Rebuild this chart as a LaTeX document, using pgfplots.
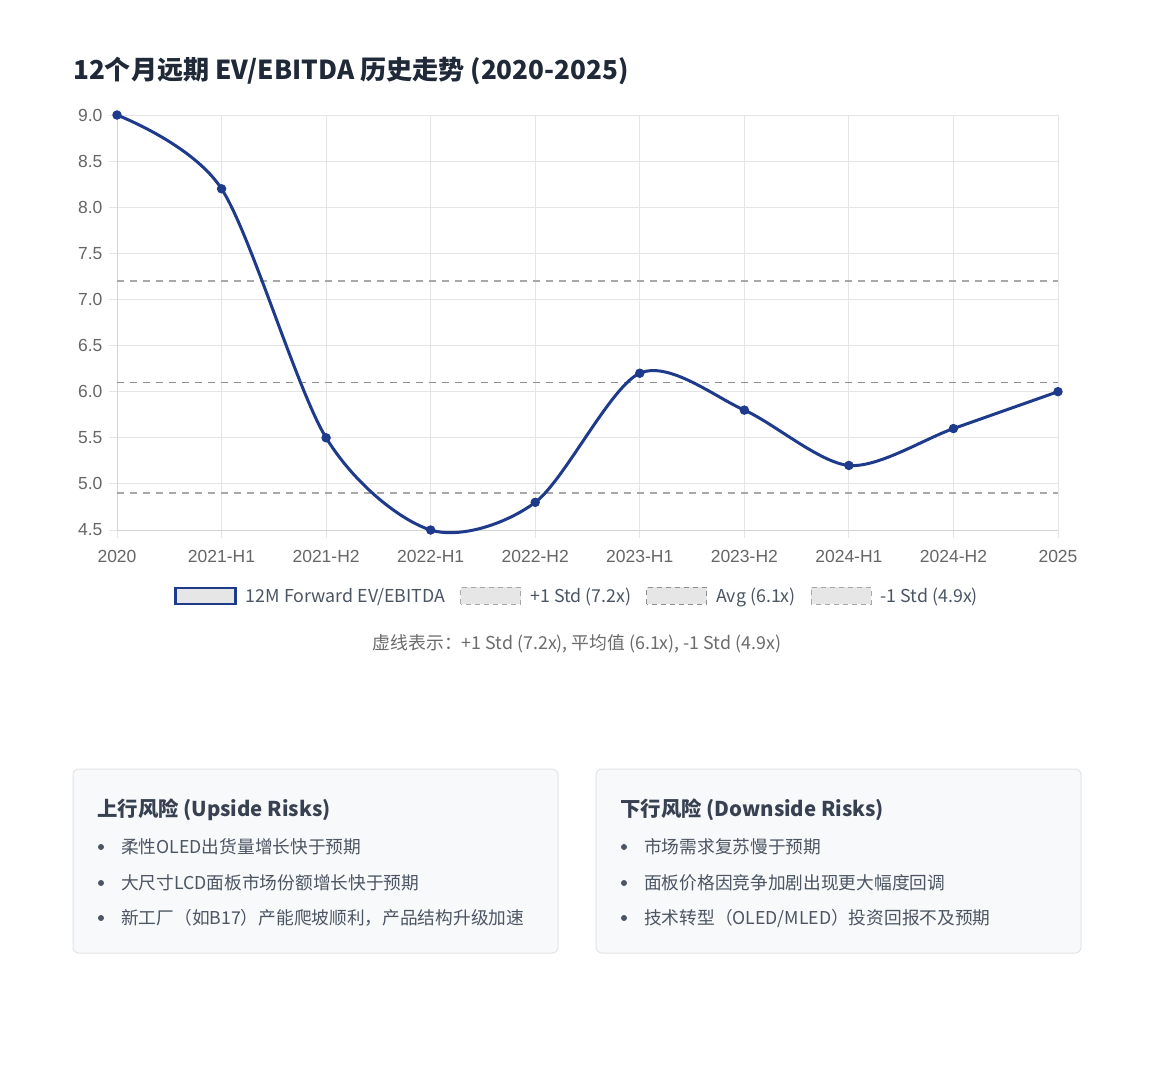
\documentclass[border=0pt]{standalone}
\usepackage{fontspec}
\usepackage{pgfplots}
\pgfplotsset{compat=1.18}
\setmainfont{Noto Sans CJK SC}
\newfontfamily\tickfont{Liberation Sans}

\definecolor{lineblue}{HTML}{1E3A8A}
\definecolor{gridgray}{HTML}{E5E5E5}
\definecolor{axisgray}{HTML}{D4D4D4}
\definecolor{tickgray}{HTML}{666666}
\definecolor{dashgray}{HTML}{A8A8A8}
\definecolor{avggray}{HTML}{8F8F8F}
\definecolor{legfill}{HTML}{E6E6E6}
\definecolor{titlecol}{HTML}{1F2937}
\definecolor{boxfill}{HTML}{F8F9FA}
\definecolor{boxline}{HTML}{E3E5E8}
\definecolor{headcol}{HTML}{374151}
\definecolor{bodycol}{HTML}{4B5563}
\definecolor{capcol}{HTML}{6B6B6B}

\newcommand{\fs}[1]{\fontsize{#1}{#1}\selectfont}

\begin{document}
\begin{tikzpicture}[x=1pt,y=-1pt]
\path[fill=white] (0,0) rectangle (1149,1080);
\useasboundingbox (0,0) rectangle (1149,1080);

\node[anchor=base west, inner sep=0pt, text=titlecol, font=\fs{26.1}\bfseries]
  at (73,79) {12个月远期 EV/EBITDA 历史走势 (2020-2025)};

\begin{axis}[
  at={(117pt,-530pt)}, anchor=south west,
  scale only axis, width=941pt, height=415pt,
  xmin=0, xmax=9, ymin=4.5, ymax=9,
  clip=false,
  axis x line=bottom, axis y line=left,
  axis line style={draw=axisgray, line width=1pt, -},
  xtick={0,...,9},
  xticklabels={2020,2021-H1,2021-H2,2022-H1,2022-H2,2023-H1,2023-H2,2024-H1,2024-H2,2025},
  ytick={4.5,5,5.5,6,6.5,7,7.5,8,8.5,9},
  yticklabel={\pgfmathprintnumber[fixed,fixed zerofill,precision=1]{\tick}},
  /pgf/number format/assume math mode=true,
  tick label style={font=\tickfont\fs{17.5}, text=tickgray},
  xticklabel style={yshift=-9pt},
  yticklabel style={xshift=-3pt},
  grid=major,
  major grid style={draw=gridgray, line width=1pt},
  tick align=outside, major tick length=8pt,
  tick style={draw=gridgray, line width=1pt},
  reverse legend,
  legend style={at={(0.488,-0.159)}, anchor=center, draw=none, fill=none,
    legend columns=4, font=\fs{17.8}, text=bodycol,
    nodes={inner sep=0pt},
    column sep=9pt,
    /tikz/every even column/.append style={column sep=15pt}},
]
\addplot[dashgray, line width=1.4pt, dash pattern=on 7pt off 6pt,
  legend image code/.code={\draw[fill=legfill, draw=dashgray, line width=1pt, dash pattern=on 5pt off 4pt] (0pt,-8.5pt) rectangle (60pt,8.5pt);}]
  coordinates {(0,4.9) (9,4.9)};
\addlegendentry{-1 Std (4.9x)}
\addplot[avggray, line width=1.4pt, dash pattern=on 7pt off 6pt,
  legend image code/.code={\draw[fill=legfill, draw=avggray, line width=1pt, dash pattern=on 5pt off 4pt] (0pt,-8.5pt) rectangle (60pt,8.5pt);}]
  coordinates {(0,6.1) (9,6.1)};
\addlegendentry{Avg (6.1x)}
\addplot[dashgray, line width=1.4pt, dash pattern=on 7pt off 6pt,
  legend image code/.code={\draw[fill=legfill, draw=dashgray, line width=1pt, dash pattern=on 5pt off 4pt] (0pt,-8.5pt) rectangle (60pt,8.5pt);}]
  coordinates {(0,7.2) (9,7.2)};
\addlegendentry{+1 Std (7.2x)}
\addplot[lineblue, line width=3pt, smooth, tension=0.5,
  mark=*, mark size=4.2pt, mark options={fill=lineblue, line width=1pt},
  legend image code/.code={\draw[fill=legfill, draw=lineblue, line width=2.5pt] (0pt,-8pt) rectangle (60pt,8pt);}]
  coordinates {(0,9.0) (1,8.2) (2,5.5) (3,4.5) (4,4.8) (5,6.2) (6,5.8) (7,5.2) (8,5.6) (9,6.0)};
\addlegendentry{12M Forward EV/EBITDA}
\end{axis}

\node[anchor=base, inner sep=0pt, text=capcol, font=\fs{17.8}]
  at (577,649) {虚线表示：+1 Std (7.2x), 平均值 (6.1x), -1 Std (4.9x)};

% risk boxes
\draw[fill=boxfill, draw=boxline, line width=1pt, rounded corners=6pt] (73,769) rectangle (558,953);
\draw[fill=boxfill, draw=boxline, line width=1pt, rounded corners=6pt] (596,769) rectangle (1081,953);

\node[anchor=base west, inner sep=0pt, text=headcol, font=\fs{20.4}\bfseries]
  at (97,816) {上行风险 (Upside Risks)};
\node[anchor=base west, inner sep=0pt, text=headcol, font=\fs{20.4}\bfseries]
  at (620,816) {下行风险 (Downside Risks)};

\foreach \yy/\txt in {853/{柔性OLED出货量增长快于预期}, 889/{大尺寸LCD面板市场份额增长快于预期}, 924/{新工厂（如B17）产能爬坡顺利，产品结构升级加速}}{
  \fill[bodycol] (101,\yy-6) circle (3);
  \node[anchor=base west, inner sep=0pt, text=bodycol, font=\fs{17.7}] at (121,\yy) {\txt};
}
\foreach \yy/\txt in {853/{市场需求复苏慢于预期}, 889/{面板价格因竞争加剧出现更大幅度回调}, 924/{技术转型（OLED/MLED）投资回报不及预期}}{
  \fill[bodycol] (624,\yy-6) circle (3);
  \node[anchor=base west, inner sep=0pt, text=bodycol, font=\fs{17.7}] at (644,\yy) {\txt};
}
\end{tikzpicture}
\end{document}
